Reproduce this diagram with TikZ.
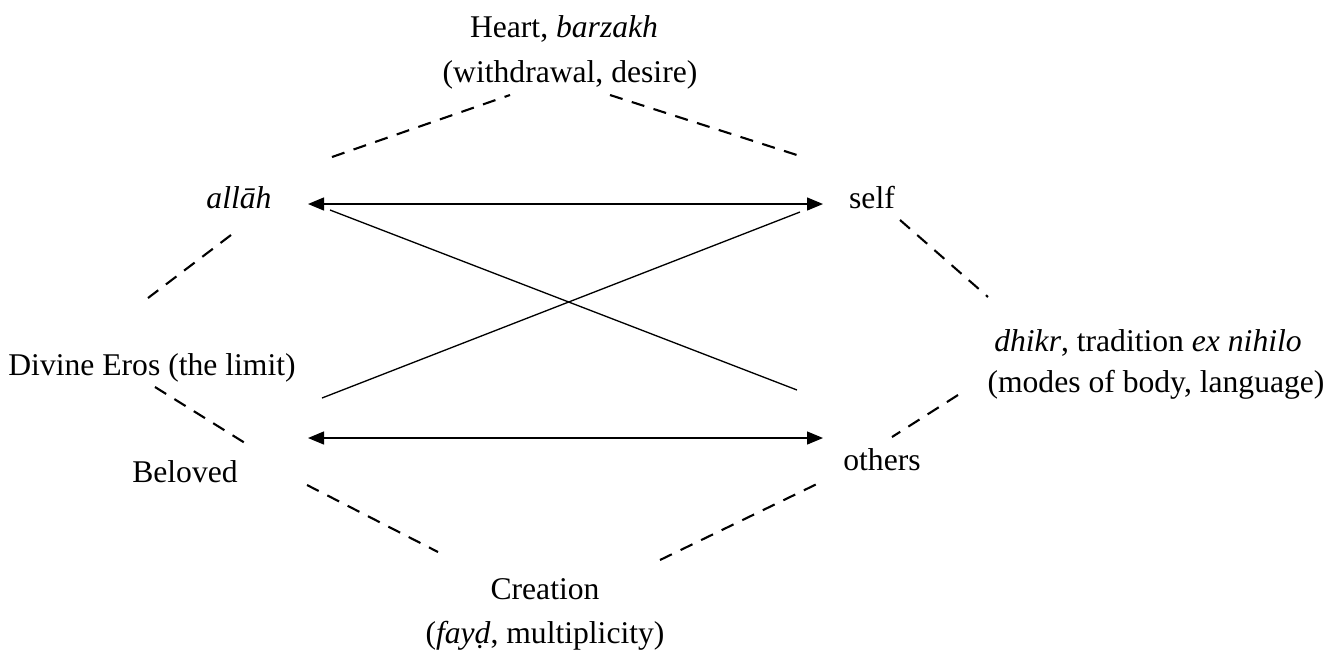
\documentclass[tikz,border=0pt]{standalone}
\usepackage{fontspec}
\setmainfont{Liberation Serif}
\usetikzlibrary{arrows.meta}
\tikzset{
  lbl/.style={inner sep=0pt, anchor=base, font=\fontsize{18}{24}\selectfont},
  dsh/.style={dashed, line width=1.2pt, dash pattern=on 7.5pt off 5.5pt},
  link/.style={line width=0.75pt},
  dbl/.style={line width=0.75pt, {Triangle[length=0.32cm,width=0.26cm]}-{Triangle[length=0.32cm,width=0.26cm]}}
}
\begin{document}
\begin{tikzpicture}[x=0.02cm,y=-0.02cm]
\useasboundingbox (0,0) rectangle (1342,654);
% text nodes
\node[lbl] (heart) at (564,37) {Heart, \textit{barzakh}};
\node[lbl] (heartb) at (570,82) {(withdrawal, desire)};
\node[lbl] (allah) at (239,208) {\textit{allāh}};
\node[lbl] (self) at (872,208) {self};
\node[lbl] (eros) at (152,375) {Divine Eros (the limit)};
\node[lbl] (dhikr) at (1148,351) {\textit{dhikr}, tradition \textit{ex nihilo}};
\node[lbl] (dhikrb) at (1156,392) {(modes of body, language)};
\node[lbl] (beloved) at (185,482) {Beloved};
\node[lbl] (others) at (882,470) {others};
\node[lbl] (creation) at (545,599) {Creation};
\node[lbl] (creationb) at (545,643) {(\textit{fayḍ}, multiplicity)};
% endpoints
\coordinate (a1) at (308,204); \coordinate (s1) at (823,204);
\coordinate (a2) at (330,210); \coordinate (o2) at (797,390);
\coordinate (s2) at (800,212); \coordinate (b2) at (322,398);
\coordinate (b3) at (308,438); \coordinate (o3) at (823,438);
\coordinate (h1) at (332,157); \coordinate (h2) at (510,95);
\coordinate (h3) at (610,95); \coordinate (h4) at (800,156);
\coordinate (al1) at (231,235); \coordinate (e1) at (148,298);
\coordinate (e2) at (155,387); \coordinate (be1) at (245,443);
\coordinate (se1) at (900,220); \coordinate (d1) at (988,297);
\coordinate (d2) at (958,395); \coordinate (ot1) at (892,437);
\coordinate (be2) at (307,485); \coordinate (c1) at (438,552);
\coordinate (c2) at (660,560); \coordinate (ot2) at (821,482);
% connectors
\draw[dbl] (a1) -- (s1);
\draw[dbl] (b3) -- (o3);
\draw[link] (a2) -- (o2);
\draw[link] (s2) -- (b2);
\draw[dsh] (h1) -- (h2);
\draw[dsh] (h3) -- (h4);
\draw[dsh] (al1) -- (e1);
\draw[dsh] (e2) -- (be1);
\draw[dsh] (se1) -- (d1);
\draw[dsh] (d2) -- (ot1);
\draw[dsh] (be2) -- (c1);
\draw[dsh] (c2) -- (ot2);
\end{tikzpicture}
\end{document}
